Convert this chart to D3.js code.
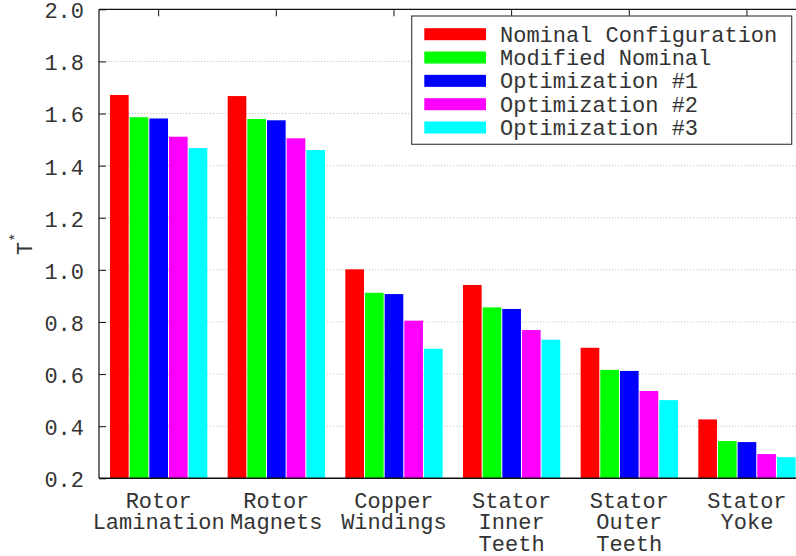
<!DOCTYPE html>
<html>
<head>
<meta charset="utf-8">
<script src="https://cdn.jsdelivr.net/npm/d3@7"></script>
<style>
  html, body { margin: 0; padding: 0; background: #fff; }
  svg { display: block; }
  text { font-family: "Liberation Mono", "Courier New", monospace; fill: #333; }
</style>
</head>
<body>
<script>
// Component groups (line breaks mark the wrapped axis labels)
const categories = [
  "Rotor\nLamination",
  "Rotor\nMagnets",
  "Copper\nWindings",
  "Stator\nInner\nTeeth",
  "Stator\nOuter\nTeeth",
  "Stator\nYoke"
];

const seriesNames = [
  "Nominal Configuration",
  "Modified Nominal",
  "Optimization #1",
  "Optimization #2",
  "Optimization #3"
];

const seriesColors = ["#ff0000", "#00ff00", "#0000ff", "#ff00ff", "#00ffff"];

// T* per component, one array per configuration
const nominalValues  = [1.671, 1.667, 1.002, 0.942, 0.701, 0.426];
const modifiedValues = [1.586, 1.579, 0.912, 0.856, 0.616, 0.343];
const opt1Values     = [1.581, 1.574, 0.907, 0.850, 0.612, 0.339];
const opt2Values     = [1.511, 1.505, 0.805, 0.769, 0.535, 0.293];
const opt3Values     = [1.467, 1.460, 0.697, 0.732, 0.500, 0.281];

const yTickValues = [0.2, 0.4, 0.6, 0.8, 1.0, 1.2, 1.4, 1.6, 1.8, 2.0];

const seriesValues = [nominalValues, modifiedValues, opt1Values, opt2Values, opt3Values];

const W = 796, H = 556;
const plot = { left: 99, top: 9.3, bottom: 478.3, right: 806.6 };

const svg = d3.select("body").append("svg")
  .attr("width", W).attr("height", H);

const x0 = d3.scaleBand()
  .domain(categories)
  .range([plot.left, plot.right])
  .paddingInner(0.173)
  .paddingOuter(0.0935);

const x1 = d3.scaleBand()
  .domain(seriesNames)
  .range([0, x0.bandwidth()])
  .paddingInner(0.05)
  .paddingOuter(0);

const y = d3.scaleLinear()
  .domain([0.2, 2.0])
  .range([plot.bottom, plot.top]);

// dotted horizontal grid
svg.append("g")
  .selectAll("line")
  .data(yTickValues.slice(1, -1))
  .join("line")
  .attr("x1", plot.left).attr("x2", W)
  .attr("y1", d => y(d)).attr("y2", d => y(d))
  .attr("stroke", "#c4c4c4")
  .attr("stroke-width", 1)
  .attr("stroke-dasharray", "1.2,1.8");

// grouped bars
const groups = svg.append("g")
  .selectAll("g")
  .data(categories)
  .join("g")
  .attr("transform", d => `translate(${x0(d)},0)`);

groups.selectAll("rect")
  .data((c, ci) => seriesNames.map((s, si) => ({ s, si, v: seriesValues[si][ci] })))
  .join("rect")
  .attr("x", d => x1(d.s))
  .attr("width", x1.bandwidth())
  .attr("y", d => y(d.v))
  .attr("height", d => y(0.2) - y(d.v))
  .attr("fill", d => seriesColors[d.si]);

// frame: left, bottom and top borders
svg.append("line")
  .attr("x1", plot.left).attr("x2", plot.left)
  .attr("y1", plot.top).attr("y2", plot.bottom)
  .attr("stroke", "#111").attr("stroke-width", 1.2);
svg.append("line")
  .attr("x1", plot.left).attr("x2", W)
  .attr("y1", plot.bottom).attr("y2", plot.bottom)
  .attr("stroke", "#111").attr("stroke-width", 1.6);
svg.append("line")
  .attr("x1", plot.left).attr("x2", W)
  .attr("y1", plot.top).attr("y2", plot.top)
  .attr("stroke", "#111").attr("stroke-width", 1.2);

// left axis: inward ticks and labels
const yAxis = d3.axisLeft(y)
  .tickValues(yTickValues)
  .tickSizeInner(-7)
  .tickSizeOuter(0)
  .tickPadding(15)
  .tickFormat(d3.format(".1f"));
const gy = svg.append("g")
  .attr("transform", `translate(${plot.left},0)`)
  .call(yAxis);
gy.select(".domain").remove();
gy.selectAll(".tick line").attr("stroke", "#111");
gy.selectAll(".tick text")
  .attr("font-size", 22)
  .attr("font-family", null)
  .attr("fill", "#333")
  .attr("dy", "0.38em");

// top mirrored ticks at group centres
const xTop = d3.axisTop(x0).tickSizeInner(-7).tickSizeOuter(0).tickFormat("");
const gt = svg.append("g")
  .attr("transform", `translate(0,${plot.top})`)
  .call(xTop);
gt.select(".domain").remove();
gt.selectAll(".tick line").attr("stroke", "#111");

// category labels below the axis
const xLabels = svg.append("g")
  .selectAll("text")
  .data(categories)
  .join("text")
  .attr("x", d => x0(d) + x0.bandwidth() / 2)
  .attr("y", 507.5)
  .attr("text-anchor", "middle")
  .attr("font-size", 22);
xLabels.selectAll("tspan")
  .data(d => d.split("\n"))
  .join("tspan")
  .attr("x", function () { return d3.select(this.parentNode).attr("x"); })
  .attr("dy", (d, i) => i === 0 ? 0 : 21.6)
  .text(d => d);

// y axis title T*
const yTitle = svg.append("text")
  .attr("transform", `translate(32,${(plot.top + plot.bottom) / 2}) rotate(-90)`)
  .attr("text-anchor", "middle")
  .attr("font-size", 22);
yTitle.append("tspan").text("T");
yTitle.append("tspan").attr("font-size", 15).attr("dy", -12).text("*");

// legend
const legend = svg.append("g");
legend.append("rect")
  .attr("x", 411.7).attr("y", 16)
  .attr("width", 380).attr("height", 128.3)
  .attr("fill", "#fff")
  .attr("stroke", "#444").attr("stroke-width", 1.2);

const rows = legend.selectAll("g.row")
  .data(seriesNames)
  .join("g")
  .attr("class", "row")
  .attr("transform", (d, i) => `translate(0,${34.2 + i * 23.33})`);
rows.append("rect")
  .attr("x", 424.3).attr("y", -6)
  .attr("width", 61.7).attr("height", 12)
  .attr("fill", (d, i) => seriesColors[i]);
rows.append("text")
  .attr("x", 500).attr("y", 7.5)
  .attr("font-size", 22)
  .text(d => d);
</script>
</body>
</html>
